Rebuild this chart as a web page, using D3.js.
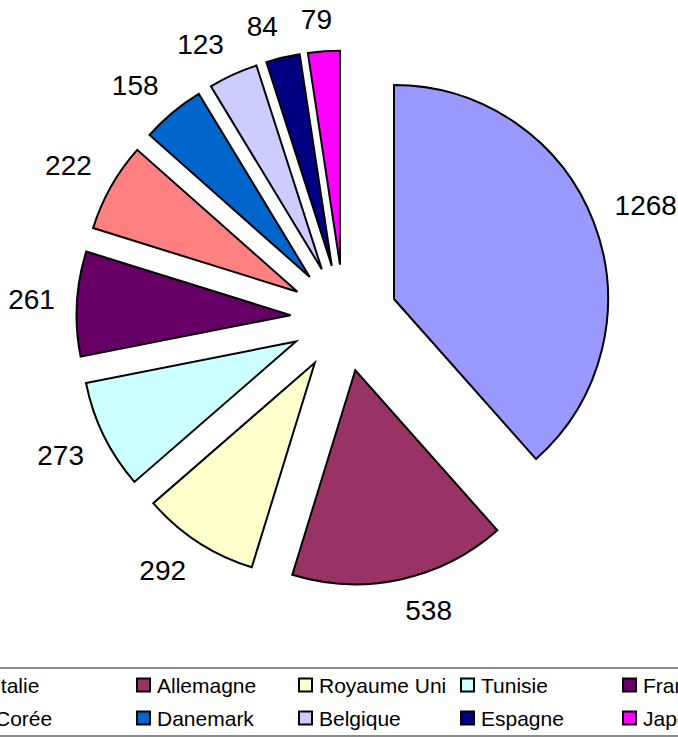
<!DOCTYPE html>
<html><head><meta charset="utf-8">
<script src="https://cdn.jsdelivr.net/npm/d3@7"></script>
<style>html,body{margin:0;padding:0;background:#fff;overflow:hidden}</style>
</head><body>
<svg id="c" width="678" height="737"></svg>
<script>
const categories = ["Italie","Allemagne","Royaume Uni","Tunisie","France","Corée","Danemark","Belgique","Espagne","Japon"];
const values = [1268,538,292,273,261,222,158,123,84,79];
const colors = ["#9999FF","#993366","#FFFFCC","#CCFFFF","#660066","#FF8080","#0066CC","#CCCCFF","#000080","#FF00FF"];

const svg = d3.select("#c");
const W = 678;
const cx = 344, cy = 318, R = 214, explode = 53.5;
const font = "Liberation Sans, Arial, sans-serif";

const pie = d3.pie().sort(null).value(d => d.v);
const data = pie(categories.map((c,i)=>({c, v: values[i], col: colors[i]})));
const arc = d3.arc().innerRadius(0).outerRadius(R);

const g = svg.append("g").attr("transform", `translate(${cx},${cy})`);
const slices = g.selectAll("g.s").data(data).enter().append("g")
  .attr("transform", d => {
    const a = (d.startAngle + d.endAngle)/2;
    return `translate(${explode*Math.sin(a)},${-explode*Math.cos(a)})`;
  });
slices.append("path").attr("d", arc)
  .attr("fill", d => d.data.col).attr("stroke", "#000").attr("stroke-width", 2).attr("stroke-linejoin","miter");

// labels: anchor point just outside the arc, text box pushed outward by quadrant
const clamp = v => Math.max(-1, Math.min(1, v));
slices.append("text")
  .attr("font-family", font).attr("font-size", 28).attr("fill", "#000")
  .attr("text-anchor", "middle").attr("dominant-baseline", "central")
  .each(function(d){
    const a = (d.startAngle + d.endAngle)/2;
    const dx = Math.sin(a), dy = -Math.cos(a);
    const txt = String(d.data.v);
    const hw = txt.length*0.556*28/2, hh = 10;
    const r = R + 22;
    d3.select(this).attr("x", dx*r + clamp(5*dx)*hw).attr("y", dy*r + clamp(5*dy)*hh).text(txt);
  });

// legend
const legTop = 668, legBot = 736;
svg.append("line").attr("x1",0).attr("x2",W).attr("y1",legTop).attr("y2",legTop).attr("stroke","#666").attr("stroke-width",1.5);
svg.append("line").attr("x1",0).attr("x2",W).attr("y1",legBot).attr("y2",legBot).attr("stroke","#666").attr("stroke-width",1.5);
const colX = d3.scaleLinear().domain([0,1]).range([-25,137]);
const rowY = [685, 718];
const leg = svg.selectAll("g.l").data(categories.map((c,i)=>({c,col:colors[i],i}))).enter().append("g")
  .attr("transform", d => `translate(${colX(d.i%5)},${rowY[Math.floor(d.i/5)]})`);
leg.append("rect").attr("x",0).attr("y",-6.5).attr("width",13).attr("height",13)
  .attr("fill", d=>d.col).attr("stroke","#000").attr("stroke-width",2);
leg.append("text").attr("x",20).attr("y",0).attr("dominant-baseline","central")
  .attr("font-family", font).attr("font-size", 21).attr("fill","#000").text(d=>d.c);
</script>
</body></html>
